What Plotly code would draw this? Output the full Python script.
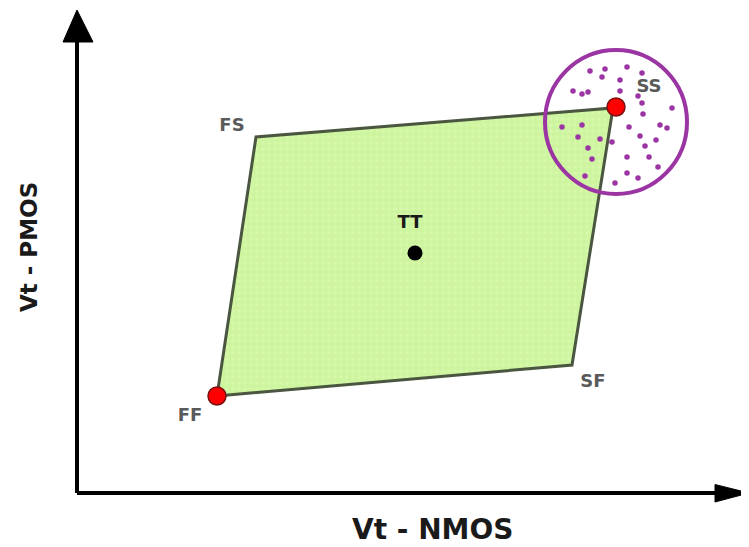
import plotly.graph_objects as go

# Process corners (Vt-NMOS, Vt-PMOS), arbitrary units
corner_names = ["FF", "SF", "SS", "FS"]
corner_x = [1.40, 4.95, 5.36, 1.79]
corner_y = [0.97, 1.28, 3.85, 3.56]

# Typical point
tt_x = [3.38]
tt_y = [2.40]

# Highlighted (red) corners
red_x = [1.40, 5.39]
red_y = [0.97, 3.86]

# Labels
label_text = ["FF", "SF", "SS", "FS", "TT"]
label_x = [1.13, 5.16, 5.72, 1.55, 3.33]
label_y = [0.77, 1.11, 4.06, 3.67, 2.70]

# Monte-Carlo sample cloud around SS
mc_x = [5.13, 5.28, 5.50, 5.25, 5.43, 5.65, 4.96, 5.05, 5.11, 5.43, 5.61, 5.65,
        5.95, 5.66, 4.85, 5.05, 5.52, 5.83, 5.90, 5.01, 5.23, 5.63, 5.79, 5.35,
        5.11, 5.68, 5.15, 5.50, 5.72, 5.81, 5.50, 5.08, 5.61, 5.38]
mc_y = [4.22, 4.24, 4.26, 4.16, 4.13, 4.20, 4.02, 3.99, 4.01, 4.02, 3.97, 3.90,
        3.85, 3.79, 3.66, 3.68, 3.66, 3.68, 3.65, 3.56, 3.54, 3.57, 3.53, 3.51,
        3.45, 3.47, 3.34, 3.36, 3.36, 3.26, 3.20, 3.17, 3.15, 3.10]

# Spread circle
circ_cx, circ_cy, circ_rx, circ_ry = 5.39, 3.71, 0.71, 0.72

x_title = "Vt - NMOS"
y_title = "Vt - PMOS"

fig = go.Figure()

fig.add_trace(go.Scatter(
    x=corner_x + [corner_x[0]], y=corner_y + [corner_y[0]],
    mode="lines", fill="toself",
    fillcolor="#cdf59f",
    fillpattern=dict(shape=".", bgcolor="#cdf59f", fgcolor="#e2f9b8", size=6, solidity=0.25),
    line=dict(color="#4a5640", width=3),
    hoverinfo="skip", showlegend=False))

fig.add_trace(go.Scatter(
    x=mc_x, y=mc_y, mode="markers",
    marker=dict(size=5.5, color="#9b35a3"),
    hoverinfo="skip", showlegend=False))

fig.add_trace(go.Scatter(
    x=red_x, y=red_y, mode="markers",
    marker=dict(size=18, color="#ff0000", line=dict(color="#7a1010", width=1.5)),
    hoverinfo="skip", showlegend=False))

fig.add_trace(go.Scatter(
    x=tt_x, y=tt_y, mode="markers",
    marker=dict(size=15, color="#000000"),
    hoverinfo="skip", showlegend=False))

fig.add_trace(go.Scatter(
    x=label_x, y=label_y, mode="text", text=label_text,
    textfont=dict(family="DejaVu Sans", size=18, weight="bold",
                  color=["#5a5a5a", "#5a5a5a", "#5a5a5a", "#5a5a5a", "#1a1a1a"]),
    hoverinfo="skip", showlegend=False))

# circle
fig.add_shape(type="circle", xref="x", yref="y",
              x0=circ_cx - circ_rx, x1=circ_cx + circ_rx,
              y0=circ_cy - circ_ry, y1=circ_cy + circ_ry,
              line=dict(color="#9b35a3", width=4), layer="above")

# axes with arrows
fig.add_shape(type="line", xref="x", yref="y", x0=0, y0=0, x1=0, y1=4.55,
              line=dict(color="#000000", width=4))
fig.add_shape(type="line", xref="x", yref="y", x0=0, y0=0, x1=6.42, y1=0,
              line=dict(color="#000000", width=4))
fig.add_shape(type="path", xref="x", yref="y",
              path="M -0.14 4.51 L 0 4.83 L 0.16 4.51 Z",
              fillcolor="#000000", line=dict(color="#000000", width=1))
fig.add_shape(type="path", xref="x", yref="y",
              path="M 6.38 0.085 L 6.72 0 L 6.38 -0.09 Z",
              fillcolor="#000000", line=dict(color="#000000", width=1))

fig.add_annotation(x=3.55, y=-0.535, xref="x", yref="y", yanchor="bottom",
                   text=x_title, showarrow=False, borderpad=0,
                   font=dict(family="DejaVu Sans", size=28, color="#1a1a1a", weight="bold"))
fig.add_annotation(x=-0.48, y=2.46, xref="x", yref="y", text=y_title, showarrow=False,
                   textangle=-90,
                   font=dict(family="DejaVu Sans", size=23, color="#1a1a1a", weight="bold"))

# page has an 8px body margin; figure is sized so data land at the reference pixels
fig.update_layout(
    width=741, height=539,
    margin=dict(l=0, r=0, t=0, b=0),
    paper_bgcolor="white", plot_bgcolor="white",
    xaxis=dict(range=[-0.69, 6.72], visible=False, fixedrange=True),
    yaxis=dict(range=[-0.54, 4.85], visible=False, fixedrange=True),
    showlegend=False,
)

fig.write_html("out.html")
